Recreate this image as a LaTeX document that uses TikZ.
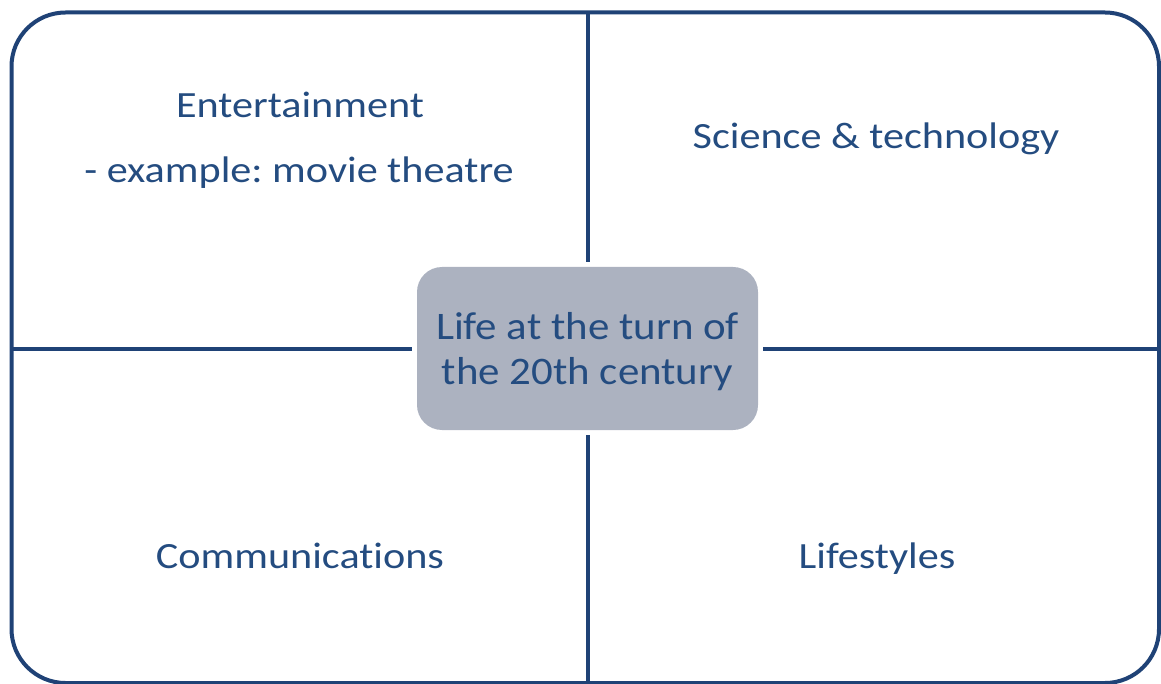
\documentclass[tikz,border=0pt]{standalone}
\usepackage{fontspec}
\setmainfont{Carlito}[Ligatures={NoCommon}]
\newfontfamily\labelfont{Carlito}[FakeStretch=1.14,Ligatures={NoCommon}]
\newfontfamily\hubfont{Carlito}[FakeStretch=1.1,Ligatures={NoCommon}]
\definecolor{linec}{HTML}{1F4276}
\definecolor{textc}{HTML}{244C80}
\definecolor{boxc}{HTML}{ACB2C0}
\frenchspacing
\begin{document}
\begin{tikzpicture}[x=1pt,y=-1pt,
  frame/.style={draw=linec,line width=4pt},
  divider/.style={draw=linec,line width=4pt},
  label/.style={text=textc,font=\labelfont\fontsize{37}{44}\selectfont,anchor=base,inner sep=0pt},
  hub/.style={fill=boxc,draw=none,rounded corners=25pt,minimum width=341pt,minimum height=163pt,text=textc,font=\hubfont\fontsize{39}{45}\selectfont,align=center,inner sep=0pt}]
\useasboundingbox (0,0) rectangle (1161,684);
\draw[frame,rounded corners=54pt] (11.5,12.5) rectangle (1159,683);
\node[hub] (c) at (587.5,348.5) {};
\node[text=textc,font=\hubfont\fontsize{39}{45}\selectfont,align=center,inner sep=0pt] (ct) at (587.5,351.5) {Life at the turn of\\the 20th century};
\coordinate (t) at (588,12.5);
\coordinate (b) at (588,683);
\coordinate (l) at (11.5,349);
\coordinate (r) at (1159,349);
\draw[divider] (t) -- ([yshift=5pt]c.north -| t);
\draw[divider] ([yshift=-5pt]c.south -| b) -- (b);
\draw[divider] (l) -- ([xshift=-5pt]c.west |- l);
\draw[divider] ([xshift=5pt]c.east |- r) -- (r);
\node[label] (e1) at (300,118) {Entertainment};
\node[label] (e2) at (299,183) {- example: movie theatre};
\node[label] (s) at (876,149) {Science \& technology};
\node[label] (cm) at (300,568) {Communications};
\node[label] (ls) at (877,568) {Lifestyles};
\end{tikzpicture}
\end{document}
